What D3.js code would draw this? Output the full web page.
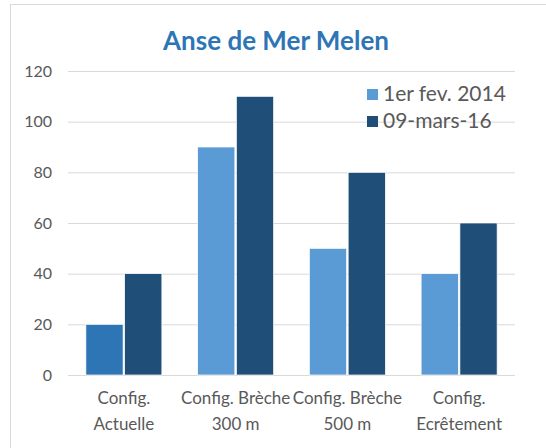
<!DOCTYPE html>
<html>
<head>
<meta charset="utf-8">
<script src="https://cdn.jsdelivr.net/npm/d3@7"></script>
<style>
  body { margin: 0; background: #fff; }
  text { font-family: Lato, "Open Sans", sans-serif; }
</style>
</head>
<body>
<div id="chart"></div>
<script>
const categories = [['Config.', 'Actuelle'], ['Config. Brèche', '300 m'], ['Config. Brèche', '500 m'], ['Config.', 'Ecrêtement']];
const seriesNames = ['1er fev. 2014', '09-mars-16'];
const series1 = [20, 90, 50, 40];
const series2 = [40, 110, 80, 60];
const yTicks = [0, 20, 40, 60, 80, 100, 120];
const colors = ['#5B9BD5', '#1F4E79'];
const firstPointColor = '#2E75B6';

const width = 546;
const height = 448;
const plot = { left: 68, right: 515, top: 71, bottom: 375 };

const svg = d3.select('#chart').append('svg')
  .attr('width', width)
  .attr('height', height);

// chart frame
svg.append('rect')
  .attr('x', 10.5).attr('y', 4.5)
  .attr('width', 560).attr('height', 470)
  .attr('fill', 'none').attr('stroke', '#d9d9d9');

svg.append('text')
  .attr('x', 276).attr('y', 50)
  .attr('text-anchor', 'middle')
  .attr('font-size', 26).attr('font-weight', 'bold')
  .attr('fill', '#2E75B6')
  .text('Anse de Mer Melen');

const yScale = d3.scaleLinear().domain([0, 120]).range([plot.bottom, plot.top]);
const x0 = d3.scaleBand().domain(d3.range(categories.length)).range([plot.left, plot.right]).paddingInner(0.32).paddingOuter(0.16);
const x1 = d3.scaleBand().domain([0, 1]).range([0, x0.bandwidth()]).paddingInner(0.04);

// gridlines
svg.append('g')
  .attr('transform', `translate(${plot.left},0)`)
  .call(d3.axisLeft(yScale).tickValues(yTicks).tickFormat('').tickSize(-(plot.right - plot.left)))
  .call(g => g.select('.domain').remove())
  .call(g => g.selectAll('line').attr('stroke', '#d9d9d9'));

// y labels
svg.append('g')
  .attr('transform', `translate(${plot.left},0)`)
  .call(d3.axisLeft(yScale).tickValues(yTicks).tickSize(0).tickPadding(16))
  .call(g => g.select('.domain').remove())
  .call(g => g.selectAll('text').attr('font-size', 16).attr('fill', '#595959').attr('font-family', 'Lato, sans-serif'));

const groups = svg.append('g').selectAll('g')
  .data(categories)
  .join('g')
  .attr('transform', (d, i) => `translate(${x0(i)},0)`);

groups.selectAll('rect')
  .data((d, i) => [series1[i], series2[i]].map((v, s) => ({ v, s, i })))
  .join('rect')
  .attr('x', d => x1(d.s))
  .attr('y', d => yScale(d.v))
  .attr('width', x1.bandwidth())
  .attr('height', d => yScale(0) - yScale(d.v))
  .attr('fill', d => (d.i === 0 && d.s === 0) ? firstPointColor : colors[d.s])
  .attr('stroke', '#fff')
  .attr('stroke-width', 0.7);

// category labels
const xl = svg.append('g');
categories.forEach((lines, i) => {
  const cx = plot.left + (plot.right - plot.left) / categories.length * (i + 0.5);
  lines.forEach((t, j) => {
    xl.append('text')
      .attr('x', cx).attr('y', 404 + j * 26)
      .attr('text-anchor', 'middle')
      .attr('font-size', 17).attr('fill', '#595959')
      .text(t);
  });
});

// legend
const legend = svg.append('g').attr('transform', 'translate(367,89)');
seriesNames.forEach((name, i) => {
  const row = legend.append('g').attr('transform', `translate(0,${i * 27})`);
  row.append('rect').attr('width', 11).attr('height', 11).attr('fill', colors[i]);
  row.append('text').attr('x', 16).attr('y', 12).attr('font-size', 21).attr('fill', '#595959').text(name);
});
</script>
</body>
</html>
